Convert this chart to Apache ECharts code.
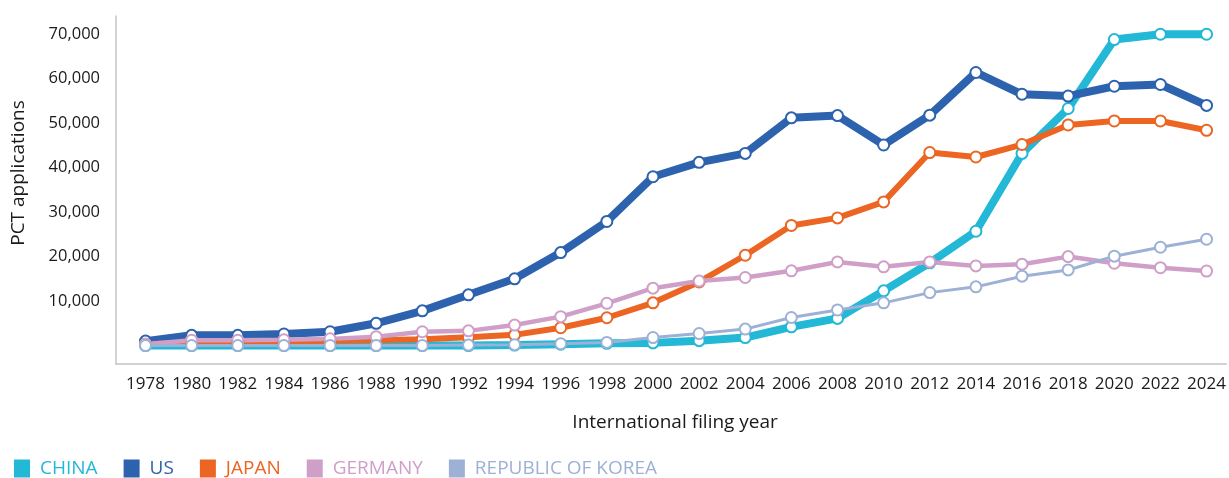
<!DOCTYPE html>
<html>
<head>
<meta charset="utf-8">
<script src="https://cdn.jsdelivr.net/npm/echarts@6/dist/echarts.min.js"></script>
<style>
  html, body { margin: 0; padding: 0; background: #fff; }
  #chart { width: 1229px; height: 478px; }
</style>
</head>
<body>
<div id="chart"></div>
<script>
// filing years (every second year)
const years = [1978, 1980, 1982, 1984, 1986, 1988, 1990, 1992, 1994, 1996, 1998, 2000,
  2002, 2004, 2006, 2008, 2010, 2012, 2014, 2016, 2018, 2020, 2022, 2024];

const china   = [0, 0, 0, 0, 0, 0, 0, 0, 100, 300, 500, 600,
  1100, 1800, 4200, 6100, 12300, 18600, 25700, 43200, 53300, 68800, 70000, 70000];
const us      = [1000, 2300, 2300, 2600, 3100, 5000, 7800, 11400, 15000, 20900, 27900, 37950,
  41200, 43200, 51200, 51700, 45100, 51800, 61400, 56500, 56100, 58300, 58700, 54000];
const japan   = [300, 700, 800, 900, 1100, 1200, 1400, 1850, 2400, 4000, 6250, 9600,
  14300, 20300, 27000, 28700, 32300, 43400, 42400, 45200, 49600, 50500, 50500, 48400];
const germany = [300, 1200, 1200, 1300, 1500, 2000, 3100, 3300, 4600, 6500, 9500, 12900,
  14500, 15300, 16800, 18800, 17700, 18800, 17900, 18300, 20000, 18500, 17500, 16750];
const korea   = [0, 0, 0, 0, 0, 0, 0, 100, 200, 400, 700, 1800,
  2700, 3700, 6300, 8000, 9600, 11900, 13200, 15600, 17000, 20100, 22100, 23900];

const yTicks = [10000, 20000, 30000, 40000, 50000, 60000, 70000];

const seriesDefs = [
  { name: "CHINA", values: china, color: "#22b8d6", width: 8 },
  { name: "US", values: us, color: "#2d62ae", width: 8 },
  { name: "JAPAN", values: japan, color: "#ec6522", width: 6 },
  { name: "GERMANY", values: germany, color: "#cf9fc8", width: 4.5 },
  { name: "REPUBLIC OF KOREA", values: korea, color: "#9db1d6", width: 3 }
];

const FONT = "Open Sans";
const TXT = "#1a1a1a";

const chart = echarts.init(document.getElementById("chart"));

const option = {
  animation: false,
  textStyle: { fontFamily: FONT },
  grid: { left: 116, right: 0, top: 16, bottom: 114 },
  legend: {
    left: 14,
    top: 459,
    padding: 0,
    icon: "rect",
    itemWidth: 14,
    itemHeight: 16,
    itemGap: 26,
    selectedMode: false,
    textStyle: { fontFamily: FONT, fontSize: 19, padding: [0, 0, 0, 6] },
    data: seriesDefs.map(s => ({
      name: s.name,
      itemStyle: { color: s.color },
      textStyle: { color: s.color }
    }))
  },
  graphic: [
    {
      type: "text",
      x: 19,
      y: 173,
      rotation: Math.PI / 2,
      style: {
        text: "PCT applications",
        fontFamily: FONT,
        fontSize: 19,
        fill: TXT,
        align: "center",
        verticalAlign: "middle"
      }
    }
  ],
  xAxis: {
    type: "value",
    min: 1976.72,
    max: 2024.85,
    name: "International filing year",
    nameLocation: "middle",
    nameGap: 49,
    nameTextStyle: { color: TXT, fontSize: 19, fontFamily: FONT, padding: [0, 0, 0, 8] },
    axisLine: { show: true, onZero: false, lineStyle: { color: "#c4c4c4", width: 1.5 } },
    axisTick: { show: false },
    splitLine: { show: false },
    axisLabel: {
      customValues: years,
      formatter: v => String(v),
      color: TXT,
      fontSize: 17,
      margin: 12
    }
  },
  yAxis: {
    type: "value",
    min: -4150,
    max: 74100,
    axisLine: { show: true, onZero: false, lineStyle: { color: "#c4c4c4", width: 1.5 } },
    axisTick: { show: false },
    splitLine: { show: false },
    axisLabel: {
      customValues: yTicks,
      formatter: v => v.toLocaleString("en-US"),
      color: TXT,
      fontSize: 16.5,
      margin: 16
    }
  },
  series: seriesDefs.map(s => ({
    name: s.name,
    type: "line",
    data: years.map((y, i) => [y, s.values[i]]),
    symbol: "circle",
    symbolSize: 11,
    showSymbol: true,
    lineStyle: { color: s.color, width: s.width },
    itemStyle: { color: "#fff", borderColor: s.color, borderWidth: 2 },
    emphasis: { disabled: true }
  }))
};

chart.setOption(option);
window.addEventListener("resize", () => chart.resize());
</script>
</body>
</html>
